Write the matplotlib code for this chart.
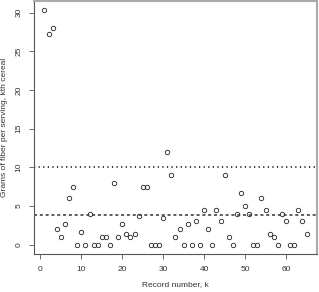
import numpy as np
from matplotlib import pyplot as plt

plt.rcParams['font.family'] = ['Liberation Sans', 'DejaVu Sans']

# fibre per serving, record order 1..65
fibre = [30.3, 27.27, 28.0, 2.0, 1.0, 2.67, 5.97, 7.46, 0.0, 1.6,
         0.0, 4.0, 0.0, 0.0, 1.0, 1.0, 0.0, 8.0, 1.0, 2.67,
         1.33, 1.0, 1.33, 3.73, 7.46, 7.46, 0.0, 0.0, 0.0, 3.4,
         12.0, 9.0, 1.0, 2.0, 0.0, 2.67, 0.0, 3.0, 0.0, 4.5,
         2.0, 0.0, 4.5, 3.0, 9.0, 1.0, 0.0, 4.0, 6.67, 5.0,
         4.0, 0.0, 0.0, 6.0, 4.5, 1.33, 1.0, 0.0, 4.0, 3.0,
         0.0, 0.0, 4.5, 3.0, 1.33]
record = np.arange(1, len(fibre) + 1)
ref_level = 10
x_ticks = [0, 10, 20, 30, 40, 50, 60]
y_ticks = [0, 5, 10, 15, 20, 25, 30]

W, H = 319, 292
fig = plt.figure(figsize=(W / 100, H / 100), dpi=100)
ax = fig.add_axes([34 / W, 1 - 254 / H, (317 - 34) / W, (254 - 1) / H])

ax.plot(record, fibre, linestyle='none', marker='o', markersize=3.2,
        markerfacecolor='none', markeredgecolor='#222222', markeredgewidth=0.6)
ax.axhline(ref_level, color='black', linestyle=(0, (0.8, 2.2)), linewidth=1.1)
ax.axhline(np.mean(fibre), color='#333333', linestyle=(0, (2.0, 1.8)), linewidth=1.1)

span_x = record.max() - record.min()
ax.set_xlim(record.min() - 0.04 * span_x, record.max() + 0.04 * span_x)
span_y = max(fibre) - min(fibre)
ax.set_ylim(min(fibre) - 0.04 * span_y, max(fibre) + 0.04 * span_y)

ax.set_xticks(x_ticks)
ax.set_yticks(y_ticks)
ax.tick_params(axis='both', direction='out', length=3.5, width=0.6,
               color='#555555', labelsize=6, labelcolor='#333333', pad=5)
for lab in ax.get_yticklabels():
    lab.set_rotation(90)
    lab.set_va('center')

for side in ['left', 'bottom']:
    ax.spines[side].set_color('#555555')
    ax.spines[side].set_linewidth(0.8)
for side in ['top', 'right']:
    ax.spines[side].set_color('#aaaaaa')
    ax.spines[side].set_linewidth(1.5)

ax.set_xlabel('Record number, k', fontsize=6, color='#333333', labelpad=6)
fig.text(4.5 / W, 1 - 127 / H, 'Grams of fiber per serving, kth cereal',
         rotation=90, ha='center', va='center', fontsize=6, color='#333333')

fig.savefig('out.png', dpi=100)
